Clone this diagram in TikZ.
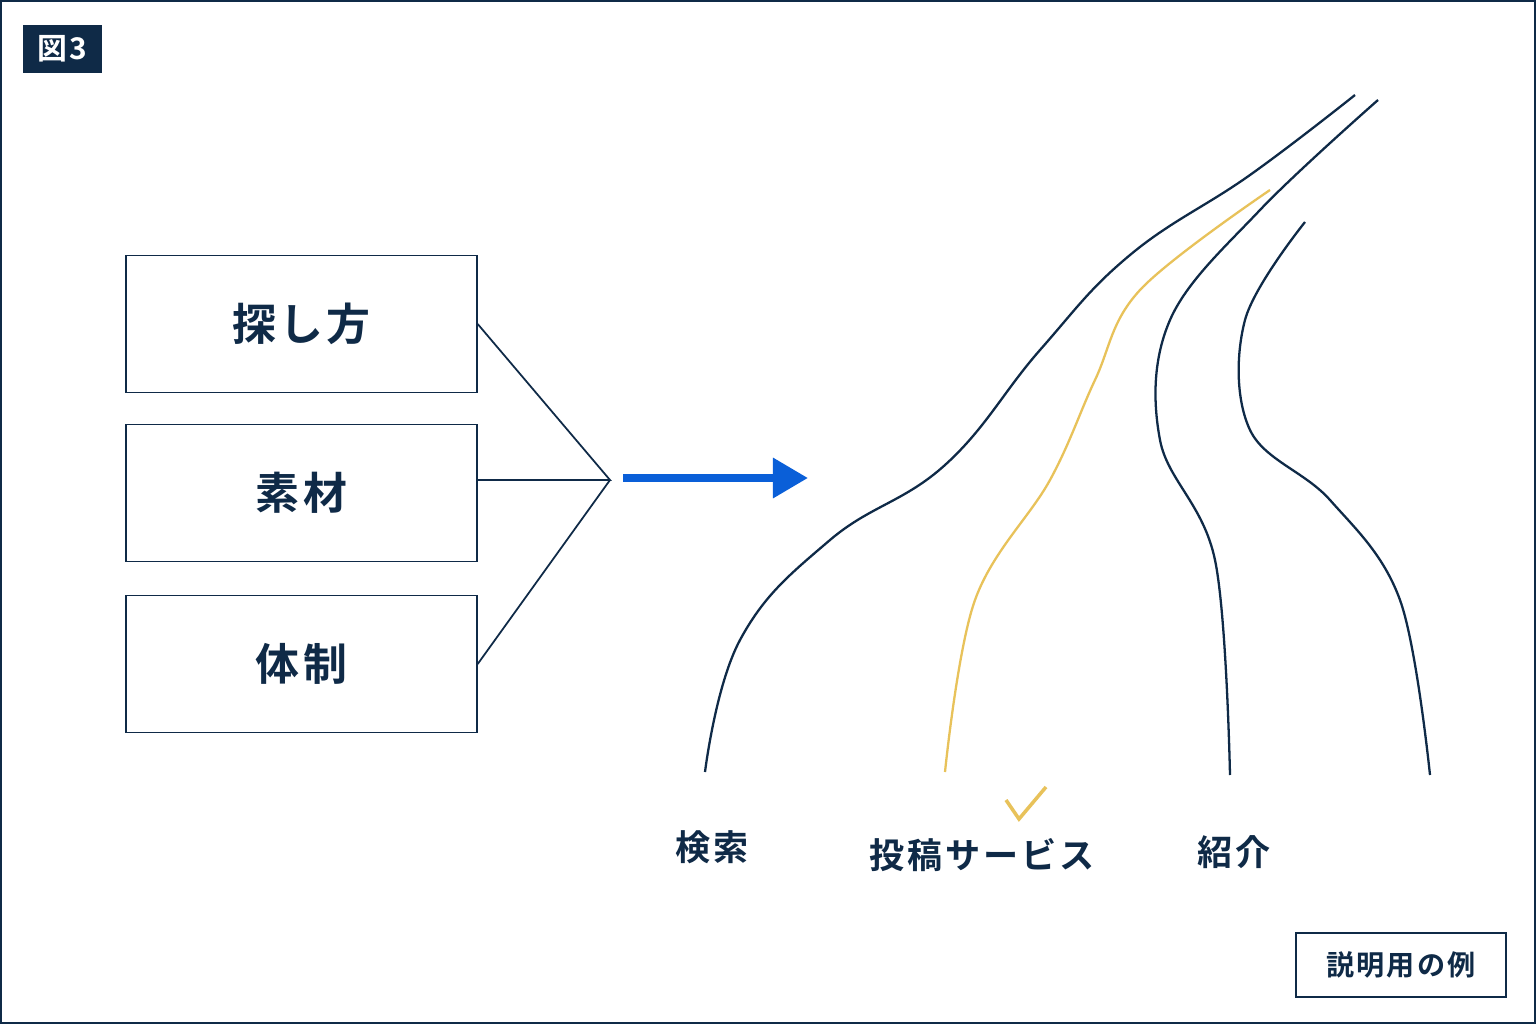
\documentclass[tikz,border=0pt]{standalone}
\usepackage{fontspec}
\newfontfamily\jp{Noto Sans CJK JP}[BoldFont={* Bold},LetterSpace=8]
\usetikzlibrary{arrows.meta}
\definecolor[named]{FigNavy}{HTML}{0F2A47}
\definecolor[named]{FigBlue}{HTML}{0A5FD8}
\definecolor[named]{FigYellow}{HTML}{E8C25A}
\tikzset{
  topic/.style={draw=FigNavy,thick,minimum width=351*0.02cm,minimum height=137*0.02cm,
    font=\jp\bfseries\fontsize{25}{28}\selectfont,text=FigNavy},
  path label/.style={font=\jp\bfseries\fontsize{20}{22}\selectfont,text=FigNavy},
  road/.style={FigNavy,line width=1.3pt},
}
\begin{document}
\begin{tikzpicture}[x=0.02cm,y=-0.02cm]
  \path[use as bounding box,fill=white] (0,0) rectangle (1536,1024);
  \draw[FigNavy,line width=1.2pt] (1,1) rectangle (1535,1023);

  % heading tag
  \node[fill=FigNavy,text=white,minimum width=79*0.02cm,minimum height=48*0.02cm,
    font=\jp\bfseries\fontsize{17}{20}\selectfont] (tag) at (62.5,49) {図3};

  % topic boxes
  \node[topic] (howto) at (301.5,324) {探し方};
  \node[topic] (material) at (301.5,493) {素材};
  \node[topic] (team) at (301.5,664) {体制};
  \coordinate (join) at (610,480);
  \draw[FigNavy,line width=1pt] (howto.east) -- (join) -- (material.east |- join) (join) -- (team.east);

  % arrow
  \coordinate (a0) at (623,478);
  \coordinate (a1) at (808,478);
  \draw[FigBlue,line width=4.5pt,-{Triangle[length=20pt,width=22pt]}] (a0) -- (a1);

  % roads
  \draw[road] plot[smooth,tension=0.7] coordinates
    {(705,772) (740,640) (830,540) (945,465) (1040,350) (1130,255) (1250,175) (1355,95)};
  \draw[FigYellow,line width=1.3pt] plot[smooth,tension=0.6] coordinates
    {(945,772) (975,600) (1050,480) (1095,380) (1140,290) (1270,190)};
  \draw[road] plot[smooth,tension=0.6] coordinates
    {(1230,775) (1215,560) (1160,440) (1170,320) (1260,210) (1378,100)};
  \draw[road] plot[smooth,tension=0.6] coordinates
    {(1430,775) (1400,600) (1330,500) (1250,430) (1245,320) (1305,222)};

  % check mark
  \draw[FigYellow,line width=2pt] (1006,800) -- (1019,819) -- (1046,787);

  % labels
  \node[path label] (search) at (712,847) {検索};
  \node[path label] (post) at (982,855) {投稿サービス};
  \node[path label] (intro) at (1234,852) {紹介};

  % example tag
  \node[draw=FigNavy,line width=1.2pt,minimum width=210*0.02cm,minimum height=64*0.02cm,
    font=\jp\bfseries\fontsize{16}{18}\selectfont,text=FigNavy] (sample) at (1401,965) {説明用の例};
\end{tikzpicture}
\end{document}
